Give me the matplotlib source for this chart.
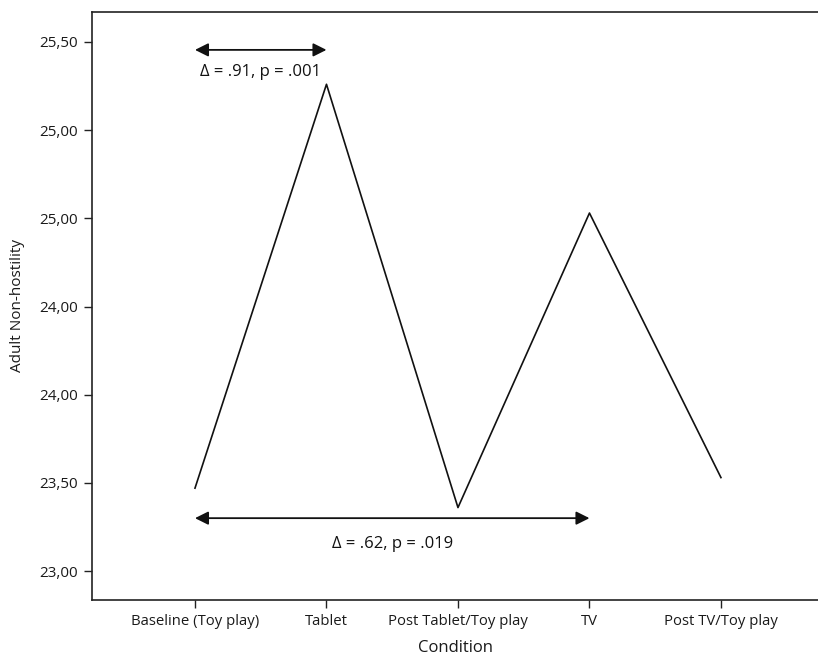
import matplotlib.pyplot as plt

plt.rcParams['font.family'] = ['Open Sans', 'DejaVu Sans']

conditions = ["Baseline (Toy play)", "Tablet", "Post Tablet/Toy play", "TV", "Post TV/Toy play"]
non_hostility = [23.47, 25.76, 23.36, 25.03, 23.53]

ytick_values = [23.0, 23.5, 24.0, 24.5, 25.0, 25.5, 26.0]
ytick_labels = ["23,00", "23,50", "24,00", "24,00", "25,00", "25,00", "25,50"]

# comparison brackets: (start idx, end idx, y level, label, label y)
comparisons = [
    (0, 1, 25.955, "\u0394 = .91, p = .001", 25.83),
    (0, 3, 23.30, "\u0394 = .62, p = .019", 23.155),
]

fig = plt.figure(figsize=(8.18, 6.61), dpi=100)
ax = fig.add_axes([0.1125, 0.0923, 0.8875, 0.8896])

x = list(range(len(conditions)))
ax.plot(x, non_hostility, color="#111111", lw=1.2)

for i0, i1, yv, label, ty in comparisons:
    ax.annotate("", xy=(i1, yv), xytext=(i0, yv),
                arrowprops=dict(arrowstyle="<|-|>", color="#111111", lw=1.3,
                                mutation_scale=20, shrinkA=0, shrinkB=0))
    ax.text((i0 + i1) / 2, ty, label, ha="center", va="center", fontsize=12, color="#111111")

ax.set_xlim(-0.783, 4.738)
ax.set_ylim(22.836, 26.17)
ax.set_xticks(x)
ax.set_xticklabels(conditions, fontsize=10.7, color="#1a1a1a")
ax.set_yticks(ytick_values)
ax.set_yticklabels(ytick_labels, fontsize=11, color="#1a1a1a")
ax.tick_params(direction="out", length=6, width=1, color="#222222", pad=4)
for s in ax.spines.values():
    s.set_color("#222222")
    s.set_linewidth(1.2)
ax.spines["right"].set_visible(False)

ax.set_xlabel("Condition", fontsize=12, color="#1a1a1a", labelpad=8)
ax.set_ylabel("Adult Non-hostility", fontsize=11, color="#1a1a1a", labelpad=10)

fig.savefig("out.png", dpi=100)
